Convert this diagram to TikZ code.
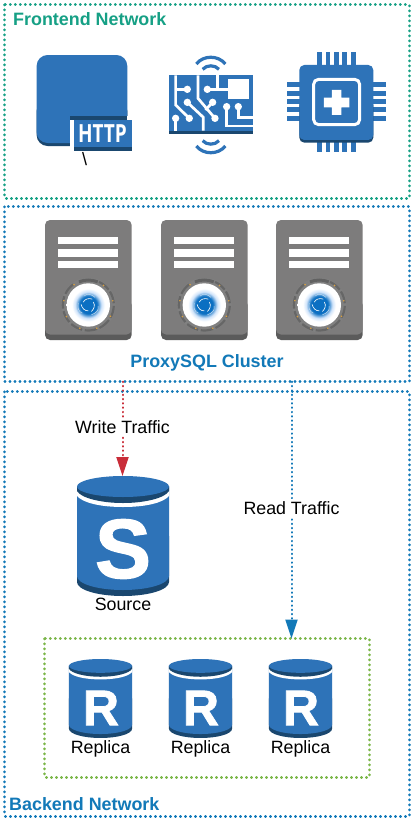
\documentclass[tikz,border=0pt]{standalone}
\usepackage{fontspec}
\setmainfont{Liberation Sans}
\newfontfamily\httpfont{Open Sans}
\newfontfamily\dbfont[FakeBold=1.5,UprightFont={* Bold}]{Liberation Sans}
\usetikzlibrary{arrows.meta}
\definecolor{awsblue}{HTML}{2E73B8}
\definecolor{awsdark}{HTML}{1A476F}
\definecolor{srvgrey}{HTML}{7D7C7C}
\definecolor{srvdark}{HTML}{5B5B5B}
\definecolor{netgreen}{HTML}{16A085}
\definecolor{netblue}{HTML}{1279B8}
\definecolor{repgreen}{HTML}{7AB648}
\definecolor{wred}{HTML}{C92D39}
\definecolor{orbblue}{HTML}{0B6FC2}
\definecolor{orbedge}{HTML}{7FB4EE}
\definecolor{orbmid}{HTML}{CFE3FA}
\definecolor{orbdot}{HTML}{D9A040}
\pgfdeclareradialshading{orbshade}{\pgfpoint{0bp}{0bp}}{%
  color(0bp)=(orbblue);color(10bp)=(orbblue);color(15bp)=(orbmid);color(19bp)=(white);
  color(29bp)=(white);color(38bp)=(orbmid);color(47bp)=(orbedge);color(50bp)=(orbedge)}
\newcommand\dbcylinder{%
    \fill[awsdark] (-46,60) -- (-46,106) .. controls (-46,114) and (-25,120) .. (0,120)
       .. controls (25,120) and (46,114) .. (46,106) -- (46,60) -- cycle;
    \fill[awsblue] (-46,10) -- (-46,100) .. controls (-46,108) and (-25,114) .. (0,114)
       .. controls (25,114) and (46,108) .. (46,100) -- (46,10) -- cycle;
    \fill[white] (-46,14) -- (-46,20) .. controls (-40,27) and (-22,31) .. (0,31)
       .. controls (22,31) and (40,27) .. (46,20) -- (46,14) -- cycle;
    \fill[awsdark] (-46,10.5) -- (-46,15) .. controls (-42,22) and (-22,27) .. (0,27)
       .. controls (22,27) and (42,22) .. (46,15) -- (46,10.5) -- cycle;
    \fill[awsblue] (0,10.5) ellipse [x radius=46,y radius=10.5];
}
\tikzset{
  netbox/.style={rectangle,inner sep=0pt},
  netline/.style={draw=#1,line width=2.8pt,dash pattern=on 0.2pt off 4.8pt,line cap=round},
  lbl/.style={font=\fontsize{17.8}{20}\selectfont,text=black,inner sep=0pt},
  headlbl/.style={font=\fontsize{17.9}{20}\selectfont\bfseries,text=#1,inner sep=0pt},
  flow/.style={draw=#1,line width=2pt,dash pattern=on 0.5pt off 3.8pt,line cap=round},
  flowtip/.style={-{Triangle[length=19pt,width=12pt,fill=#1,color=#1]}},
  trace/.style={draw=white,line width=2.7pt,line cap=butt},
  tdot/.style={fill=white},
  dbletter/.style={text=white,inner sep=0pt,font=\fontsize{#1}{#1}\selectfont\dbfont},
  pics/server/.style={code={
    \fill[srvdark,rounded corners=5pt] (45,300) rectangle (131.7,340);
    \fill[srvgrey,rounded corners=5pt] (45,220) rectangle (131.7,334.5);
    \foreach \a/\b in {237/244,249.3/256.7,261.3/268.3}
      \fill[white] (58.3,\a) rectangle (118.3,\b);
    \begin{scope}[shift={(88.3,305)}]
      \draw[line width=5.5pt,color=black!50] (0,0) circle [radius=24.5];
      \foreach \s in {-65,-32,2,36,70,104,138,172,206}
        \draw[line width=2.2pt,color=black!60] (\s:25.5) arc [start angle=\s,delta angle=28,radius=25.5];
      \draw[line width=3pt,color=black!62] (-112:25) arc [start angle=-112,delta angle=44,radius=25];
      \foreach \g in {152,110,70,27,-10,-52,-125,-170}
        \fill[orbdot] (\g:24.8) circle [radius=0.9];
      \shade[shading=orbshade] (0,0) circle [radius=21.7];
      \foreach \r in {0,120,240}
        \draw[white,line width=0.6pt,rotate=\r] (5,-3) .. controls (7,0) and (6,4) .. (3,6.5);
      \foreach \r in {60,180,300}
        \draw[orbblue!25,line width=0.5pt,rotate=\r] (6,-8) .. controls (10,-7) and (11,-2) .. (10,2);
    \end{scope}
  }},
  x=1pt,y=-1pt
}
\begin{document}
\begin{tikzpicture}
\useasboundingbox (0,0) rectangle (415,825);
\fill[white] (0,0) rectangle (415,825);

% network boxes
\node[netbox,minimum width=404pt,minimum height=193pt] (frontend) at (207,101.5) {};
\node[netbox,minimum width=404pt,minimum height=174.5pt] (proxy) at (207,294.2) {};
\node[netbox,minimum width=404pt,minimum height=424pt] (backend) at (207,604) {};
\node[netbox,minimum width=324pt,minimum height=138pt] (replicas) at (207,708) {};
\draw[netline=netgreen] (frontend.north west) rectangle (frontend.south east);
\draw[netline=netblue] (proxy.north west) rectangle (proxy.south east);
\draw[netline=netblue] (backend.north west) rectangle (backend.south east);
\draw[netline=repgreen] (replicas.north west) rectangle (replicas.south east);

\node[headlbl=netgreen,anchor=west] (frontendtitle) at (13,19) {Frontend Network};
\node[headlbl=netblue] (proxytitle) at (207,362.7) {ProxySQL Cluster};
\node[headlbl=netblue,anchor=west] (backendtitle) at (9,804) {Backend Network};

% HTTP icon
\fill[awsdark,rounded corners=11pt] (36.6,100) rectangle (127.3,146);
\fill[awsblue,rounded corners=11pt] (36.6,55) rectangle (127.3,143);
\fill[white] (69.5,116) rectangle (135,155);
\fill[awsdark] (69.5,116) rectangle (127.3,120);
\fill[awsblue] (73.5,120) rectangle (132,147);
\fill[awsdark] (73.5,147) rectangle (132,151);
\node[inner sep=0pt,text=white,font=\fontsize{25}{25}\selectfont\httpfont\bfseries] (http) at (102.5,133.5) {\scalebox{0.76}[1]{HTTP}};
\node[inner sep=0pt,font=\fontsize{18}{18}\selectfont] (tick) at (84.7,159) {\textbackslash};

% circuit icon
\begin{scope}[x=0.3333pt,y=-0.3333pt]
  \fill[awsdark] (507,385) rectangle (758,403);
  \fill[awsblue] (507,226) rectangle (758,392);
  \fill[white] (684,238) rectangle (748,298);
  \draw[trace] (527,226) -- (527,315) -- (568,355);
  \draw[trace] (527,268) -- (562,268);
  \draw[trace] (594,226) -- (594,295) -- (645,355);
  \draw[trace] (622,268) -- (684,268);
  \draw[trace] (652,226) -- (652,268);
  \draw[trace] (638,307) -- (616,330);
  \draw[trace] (562,307) -- (610,352) -- (610,392);
  \draw[trace] (527,355) -- (527,392);
  \draw[trace] (680,320) -- (680,378) -- (758,378);
  \draw[trace] (715,320) -- (715,352) -- (758,352);
  \foreach \p in {(562,268),(622,268),(562,307),(638,307),(527,355),(568,355),(645,355),(680,320),(715,320)}
    \fill[tdot] \p circle [radius=11];
  \draw[awsblue,line width=3.2pt] (589,192) .. controls (610,165) and (655,165) .. (676,192);
  \draw[awsblue,line width=3.2pt] (608,208) .. controls (620,194) and (645,194) .. (657,208);
  \draw[awsblue,line width=3.2pt] (589,438) .. controls (610,465) and (655,465) .. (676,438);
  \draw[awsblue,line width=3.2pt] (608,422) .. controls (620,436) and (645,436) .. (657,422);
\end{scope}

% chip icon
\begin{scope}[x=0.3333pt,y=-0.3333pt]
  \foreach \a/\b in {952/967,977/990,1002/1017,1027/1042,1053/1068}{
    \fill[awsblue] (\a,157) rectangle (\b,200);
    \fill[awsblue] (\a,415) rectangle (\b,455);
  }
  \foreach \a/\b in {247/262,272/287,297/312,322/337,347/362}{
    \fill[awsblue] (860,\a) rectangle (905,\b);
    \fill[awsblue] (1115,\a) rectangle (1158,\b);
  }
  \fill[awsdark,rounded corners=5pt] (898,300) rectangle (1120,428);
  \fill[awsblue,rounded corners=5pt] (898,195) rectangle (1120,420);
  \draw[white,line width=3pt,rounded corners=5pt] (941,238) rectangle (1079,374);
  \fill[white] (996,270) -- (1024,270) -- (1024,293) -- (1048,293) -- (1048,322) -- (1024,322)
     -- (1024,345) -- (996,345) -- (996,322) -- (972,322) -- (972,293) -- (996,293) -- cycle;
\end{scope}

% ProxySQL servers
\pic (srv1) at (0,0) {server};
\pic (srv2) at (116,0) {server};
\pic (srv3) at (231,0) {server};

% source
\begin{scope}[shift={(123,476)}]
  \dbcylinder
\end{scope}
\node[dbletter=84] (srcletter) at (123,549) {S};
\node[lbl] (srclabel) at (123,604) {Source};
\coordinate (srctop) at (122.5,476);

% replicas
\foreach \c/\n in {100.5/a,200.5/b,300.5/c}{
  \begin{scope}[shift={(\c,659)},xscale=0.685,yscale=0.658]
    \dbcylinder
  \end{scope}
  \node[dbletter=50] (repl\n) at (\c+0.5,708) {R};
  \node[lbl] (replabel\n) at (\c,748.5) {Replica};
}
\coordinate (readin) at (291.5,638.5);

% connectors
\draw[flow=wred,flowtip=wred] (proxy.south -| srctop) -- (srctop);
\draw[flow=netblue,flowtip=netblue] (proxy.south -| readin) -- (readin);
\node[lbl,fill=white,inner xsep=1pt,inner ysep=2pt] (writelabel) at (122.5,427) {Write Traffic};
\node[lbl,fill=white,inner xsep=1pt,inner ysep=2pt] (readlabel) at (291.5,508) {Read Traffic};
\end{tikzpicture}
\end{document}
